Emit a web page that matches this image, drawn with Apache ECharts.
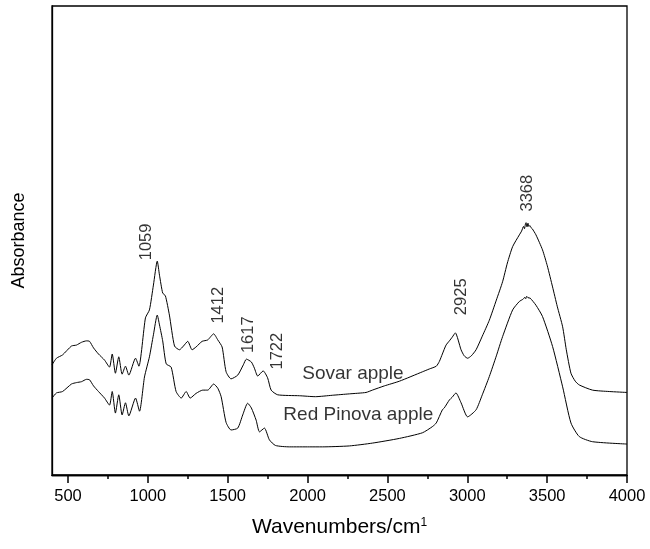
<!DOCTYPE html>
<html>
<head>
<meta charset="utf-8">
<script src="https://cdn.jsdelivr.net/npm/echarts@6/dist/echarts.min.js"></script>
<style>
  html, body { margin: 0; padding: 0; background: #fff; }
  #chart { width: 650px; height: 549px; }
</style>
</head>
<body>
<div id="chart"></div>
<script>
// FTIR spectra, [wavenumber (cm-1), absorbance (a.u.)]
var sovarSpectrum = [
  [400, 0.235], [428, 0.249], [466, 0.256], [522, 0.275], [553, 0.277], [585, 0.283],
  [616, 0.286], [635, 0.285], [660, 0.271], [691, 0.258], [729, 0.245], [760, 0.230],
  [777, 0.258], [797, 0.217], [818, 0.252], [839, 0.215], [860, 0.232], [881, 0.213],
  [923, 0.249], [944, 0.232], [985, 0.335], [1010, 0.352], [1035, 0.405], [1059, 0.456],
  [1073, 0.426], [1093, 0.388], [1110, 0.382], [1135, 0.341], [1167, 0.275], [1198, 0.267],
  [1223, 0.275], [1250, 0.285], [1277, 0.267], [1302, 0.273], [1340, 0.285], [1375, 0.288],
  [1412, 0.301], [1438, 0.288], [1465, 0.273], [1490, 0.220], [1521, 0.205], [1563, 0.213],
  [1598, 0.235], [1617, 0.247], [1648, 0.241], [1667, 0.228], [1688, 0.211], [1722, 0.222],
  [1750, 0.207], [1772, 0.181], [1813, 0.171], [1949, 0.169], [2049, 0.167], [2155, 0.170],
  [2262, 0.173], [2366, 0.176], [2406, 0.181], [2481, 0.190], [2575, 0.200], [2719, 0.220],
  [2762, 0.226], [2806, 0.232], [2825, 0.242], [2844, 0.258], [2867, 0.277], [2888, 0.286],
  [2906, 0.294], [2925, 0.303], [2961, 0.267], [2981, 0.254], [3002, 0.249], [3025, 0.254],
  [3055, 0.267], [3094, 0.296], [3138, 0.330], [3182, 0.373], [3221, 0.412], [3251, 0.452],
  [3284, 0.487], [3326, 0.512], [3340, 0.520], [3352, 0.530], [3358, 0.525], [3364, 0.535],
  [3368, 0.538], [3374, 0.529], [3380, 0.537], [3386, 0.530], [3392, 0.532], [3400, 0.527],
  [3407, 0.525], [3430, 0.512], [3471, 0.480], [3501, 0.446], [3534, 0.401], [3563, 0.360],
  [3597, 0.316], [3620, 0.267], [3649, 0.217], [3676, 0.200], [3701, 0.192], [3784, 0.181],
  [3889, 0.178], [4000, 0.176]
];

var pinovaSpectrum = [
  [400, 0.164], [428, 0.175], [466, 0.178], [522, 0.194], [553, 0.197], [585, 0.199],
  [616, 0.204], [635, 0.203], [660, 0.190], [691, 0.178], [729, 0.164], [760, 0.149],
  [777, 0.178], [797, 0.132], [818, 0.171], [839, 0.128], [860, 0.154], [881, 0.126],
  [923, 0.164], [948, 0.136], [979, 0.209], [1010, 0.252], [1035, 0.299], [1059, 0.341],
  [1073, 0.320], [1093, 0.286], [1115, 0.237], [1146, 0.230], [1177, 0.178], [1209, 0.164],
  [1240, 0.178], [1265, 0.164], [1302, 0.174], [1344, 0.181], [1375, 0.181], [1412, 0.194],
  [1438, 0.185], [1459, 0.167], [1490, 0.112], [1521, 0.096], [1563, 0.100], [1594, 0.128],
  [1625, 0.153], [1648, 0.143], [1678, 0.117], [1699, 0.092], [1730, 0.100], [1761, 0.075],
  [1799, 0.063], [1886, 0.060], [2011, 0.060], [2093, 0.060], [2262, 0.062], [2406, 0.068],
  [2575, 0.078], [2719, 0.090], [2781, 0.103], [2806, 0.111], [2844, 0.139], [2856, 0.143],
  [2888, 0.160], [2906, 0.166], [2929, 0.175], [2961, 0.154], [3002, 0.124], [3055, 0.139],
  [3094, 0.171], [3138, 0.210], [3182, 0.254], [3221, 0.295], [3284, 0.352], [3326, 0.370],
  [3350, 0.375], [3360, 0.379], [3366, 0.376], [3372, 0.381], [3380, 0.378], [3394, 0.377],
  [3430, 0.362], [3471, 0.338], [3534, 0.274], [3597, 0.188], [3649, 0.111], [3701, 0.082],
  [3784, 0.071], [4000, 0.066]
];

var majorTicks = [500, 1000, 1500, 2000, 2500, 3000, 3500, 4000];
var minorTicks = [750, 1250, 1750, 2250, 2750, 3250, 3750];

// peak labels (rotated) and curve names, anchored in data units
var peakLabels = [
  ['1059', 991, 0.497],
  ['1412', 1442, 0.362],
  ['1617', 1630, 0.299],
  ['1722', 1811, 0.264],
  ['2925', 2963, 0.380],
  ['3368', 3376, 0.601]
];
var curveNames = [
  ['Sovar apple', 2284, 0.215],
  ['Red Pinova apple', 2318, 0.128]
];

var font = 'Liberation Sans, Arial, Helvetica, sans-serif';
var chart = echarts.init(document.getElementById('chart'));

var labelData = [];
peakLabels.forEach(function (p) {
  labelData.push({ value: [p[1], p[2]], label: { formatter: p[0], rotate: 90, fontSize: 16.5 } });
});
curveNames.forEach(function (c) {
  labelData.push({ value: [c[1], c[2]], label: { formatter: c[0], rotate: 0, fontSize: 19 } });
});

var axisLineStyle = { color: '#000', width: 1.3 };

chart.setOption({
  animation: false,
  backgroundColor: '#fff',
  grid: {
    left: 52, right: 23, top: 6, bottom: 74,
    show: true, borderColor: '#000', borderWidth: 1.3
  },
  xAxis: [{
    type: 'value',
    min: 400, max: 4000,
    position: 'bottom',
    name: 'Wavenumbers/cm{sup|1}',
    nameLocation: 'middle',
    nameGap: 42,
    nameTextStyle: {
      color: '#000', fontSize: 21, fontFamily: font,
      rich: { sup: { fontSize: 12, verticalAlign: 'top', fontFamily: font, color: '#000' } }
    },
    axisLine: { show: true, lineStyle: axisLineStyle },
    axisTick: { show: true, length: 8, customValues: majorTicks, lineStyle: { color: '#000', width: 1.5 } },
    axisLabel: {
      show: true, customValues: majorTicks, margin: 13, color: '#000', fontSize: 16.5, fontFamily: font,
      formatter: function (v) { return String(v); }
    },
    splitLine: { show: false }
  }, {
    // minor ticks only, same scale and position as the main axis
    type: 'value',
    min: 400, max: 4000,
    position: 'bottom',
    axisLine: { show: true, lineStyle: axisLineStyle },
    axisTick: { show: true, length: 4, customValues: minorTicks, lineStyle: { color: '#000', width: 1.5 } },
    axisLabel: { show: false },
    splitLine: { show: false }
  }],
  yAxis: {
    type: 'value',
    min: 0, max: 1,
    name: 'Absorbance',
    nameLocation: 'middle',
    nameGap: 24,
    nameTextStyle: { color: '#000', fontSize: 18, fontFamily: font },
    axisLine: { show: true, lineStyle: axisLineStyle },
    axisTick: { show: false },
    axisLabel: { show: false },
    splitLine: { show: false }
  },
  series: [{
    name: 'Sovar apple',
    type: 'line',
    data: sovarSpectrum,
    smooth: 0.2,
    showSymbol: false,
    lineStyle: { color: '#000', width: 1 }
  }, {
    name: 'Red Pinova apple',
    type: 'line',
    data: pinovaSpectrum,
    smooth: 0.2,
    showSymbol: false,
    lineStyle: { color: '#000', width: 1 }
  }, {
    type: 'scatter',
    symbolSize: 0,
    silent: true,
    data: labelData,
    label: {
      show: true, position: 'inside', align: 'center', verticalAlign: 'middle',
      color: '#000', fontFamily: font
    }
  }]
});
</script>
</body>
</html>
